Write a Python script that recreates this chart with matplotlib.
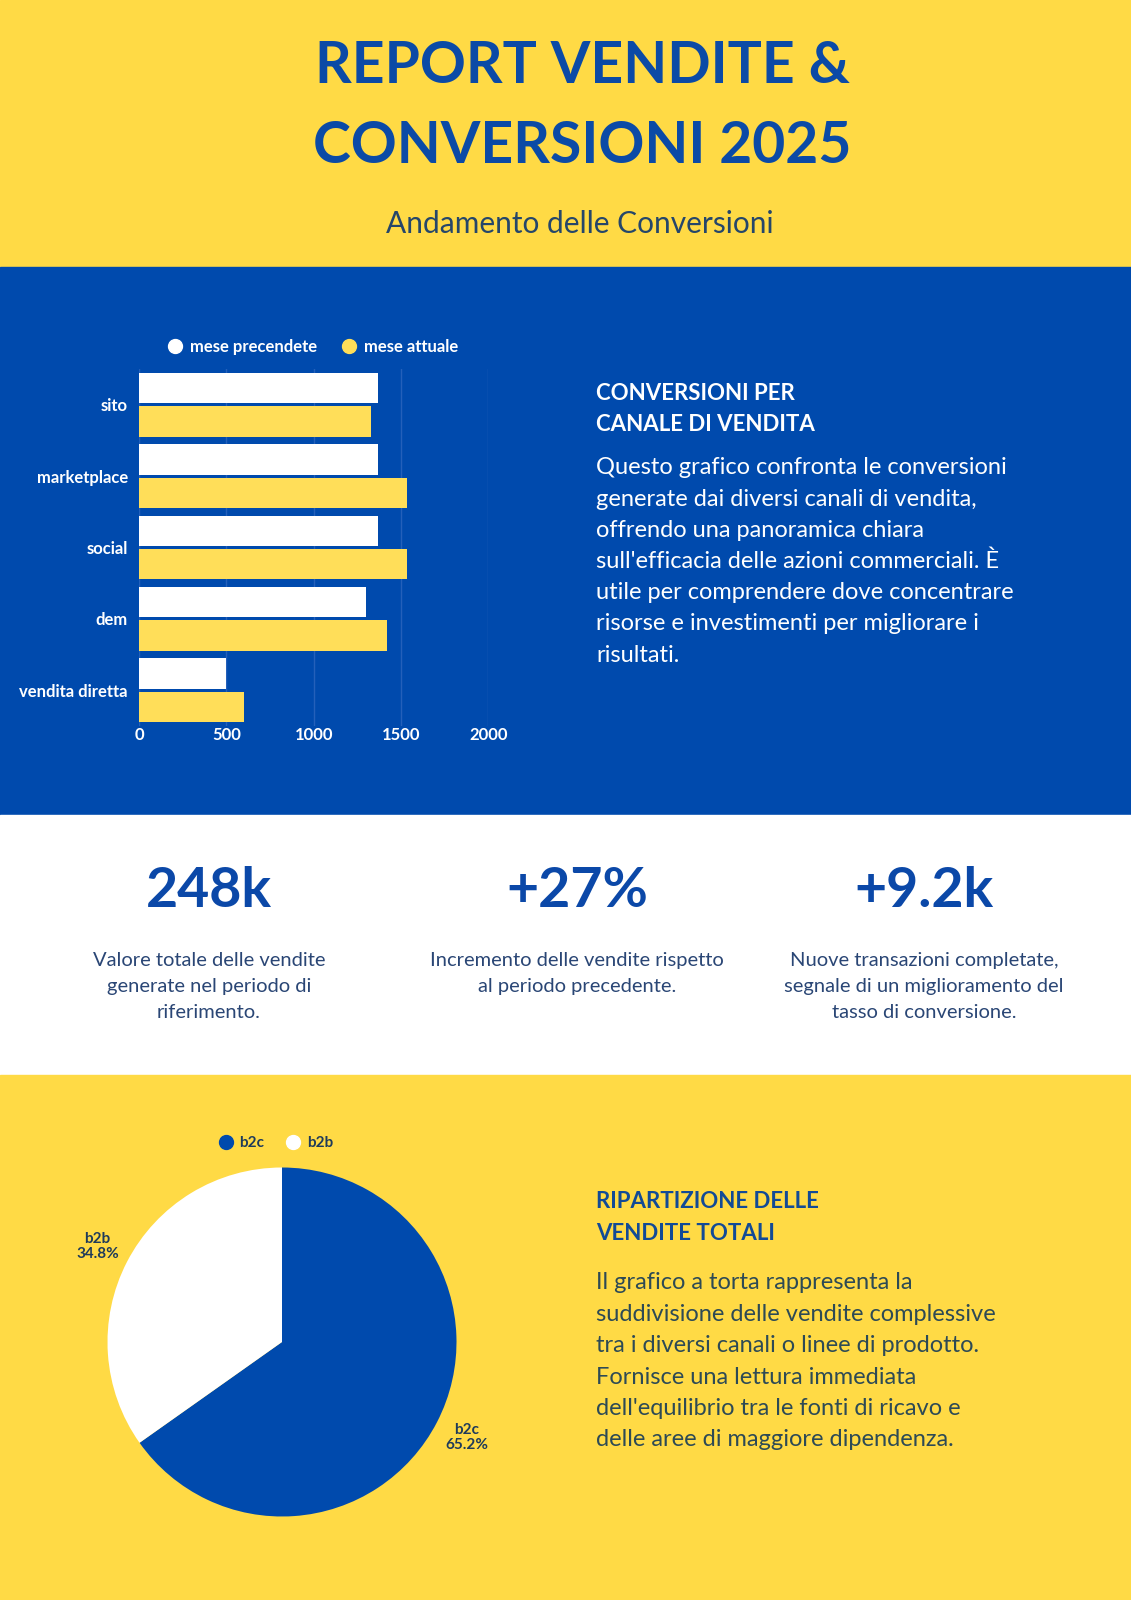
import matplotlib.pyplot as plt
from matplotlib.lines import Line2D
from matplotlib.patches import Rectangle
import numpy as np

# dati
canali = ['sito', 'marketplace', 'social', 'dem', 'vendita diretta']
mese_precedente = [1370, 1370, 1370, 1300, 500]
mese_attuale = [1330, 1535, 1535, 1420, 600]
x_ticks = [0, 500, 1000, 1500, 2000]

stat_valori = ['248k', '+27%', '+9.2k']
stat_testi = [
    ['Valore totale delle vendite', 'generate nel periodo di', 'riferimento.'],
    ['Incremento delle vendite rispetto', 'al periodo precedente.'],
    ['Nuove transazioni completate,', 'segnale di un miglioramento del', 'tasso di conversione.'],
]

segmenti = ['b2c', 'b2b']
quote = [65.2, 34.8]

BLU = '#004AAD'
GIALLO = '#FFDA45'
GIALLO_BAR = '#FFDE59'
W, H = 1131, 1600

plt.rcParams['font.family'] = ['Lato', 'DejaVu Sans']

fig = plt.figure(figsize=(W / 100, H / 100), dpi=100)
fig.patch.set_facecolor('white')


def fy(y):
    return 1 - y / H


def testo(x, y, s, **kw):
    fig.text(x / W, fy(y), s, va='baseline', **kw)


def legenda(colori, nomi, x, y, colore_testo, size):
    handles = [Line2D([], [], marker='o', linestyle='', markersize=10, color=c) for c in colori]
    fig.legend(handles, nomi, loc='center left', bbox_to_anchor=(x / W, fy(y)), ncol=len(nomi),
               frameon=False, handlelength=1.0, handletextpad=0.4, columnspacing=1.4,
               borderaxespad=0, borderpad=0, labelcolor=colore_testo,
               prop={'weight': 'bold', 'size': size})


# fasce di sfondo
for y0, y1, c in [(0, 267, GIALLO), (267, 815, BLU), (815, 1075, 'white'), (1075, 1600, GIALLO)]:
    fig.patches.append(Rectangle((0, fy(y1)), 1, (y1 - y0) / H, transform=fig.transFigure,
                                 color=c, zorder=-10))

# intestazione
testo(582, 83, 'REPORT VENDITE &', ha='center', fontsize=41, fontweight='bold', color='#0B4AA6')
testo(582, 163, 'CONVERSIONI 2025', ha='center', fontsize=41, fontweight='bold', color='#0B4AA6')
testo(580, 233, 'Andamento delle Conversioni', ha='center', fontsize=21.5, color='#25466A')

# grafico a barre
ax = fig.add_axes([139 / W, fy(726), (488.3 - 139) / W, (726 - 369) / H])
ax.set_facecolor(BLU)
y = np.arange(len(canali))
h = 0.427
ax.barh(y - 0.2345, mese_precedente, height=h, color='white', zorder=3)
ax.barh(y + 0.2345, mese_attuale, height=h, color=GIALLO_BAR, zorder=3)
ax.set_xlim(0, 2000)
ax.set_ylim(len(canali) - 0.5, -0.5)
ax.set_xticks(x_ticks)
ax.set_yticks(y)
ax.set_yticklabels(canali)
ax.tick_params(length=0, colors='white', labelsize=12)
ax.tick_params(axis='y', pad=8)
ax.tick_params(axis='x', pad=1)
for lab in ax.get_xticklabels() + ax.get_yticklabels():
    lab.set_fontweight('bold')
ax.grid(axis='x', color='#2460BA', linewidth=1, zorder=0)
for s in ax.spines.values():
    s.set_visible(False)

legenda(['white', GIALLO_BAR], ['mese precendete', 'mese attuale'], 167, 347, 'white', 12)

# testo a destra
testo(596, 400, 'CONVERSIONI PER', fontsize=16, fontweight='bold', color='white')
testo(596, 431, 'CANALE DI VENDITA', fontsize=16, fontweight='bold', color='white')
righe = ['Questo grafico confronta le conversioni',
         'generate dai diversi canali di vendita,',
         'offrendo una panoramica chiara',
         "sull'efficacia delle azioni commerciali. È",
         'utile per comprendere dove concentrare',
         'risorse e investimenti per migliorare i',
         'risultati.']
for i, r in enumerate(righe):
    testo(596, 474.3 + 31.2 * i, r, fontsize=17, color='white')

# statistiche
for cx, val, linee in zip([209, 577, 924], stat_valori, stat_testi):
    testo(cx, 907, val, ha='center', fontsize=40, fontweight='bold', color='#0B48A8')
    for j, l in enumerate(linee):
        testo(cx, 966 + 26 * j, l, ha='center', fontsize=14.5, color='#2A4675')

# grafico a torta
r = 174.5
axp = fig.add_axes([(282 - r) / W, fy(1342 + r), 2 * r / W, 2 * r / H])
wedges, labels = axp.pie(quote, colors=[BLU, 'white'], startangle=90, counterclock=False,
                         labels=[f'{s}\n{q}%' for s, q in zip(segmenti, quote)],
                         labeldistance=1.19,
                         textprops={'fontsize': 11, 'fontweight': 'bold', 'color': '#1F3B5A'})
for t in labels:
    t.set_ha('center')
    t.set_va('center')
    t.set_linespacing(1.1)
axp.set_xlim(-1, 1)
axp.set_ylim(-1, 1)

legenda([BLU, 'white'], segmenti, 218, 1143, '#1F3B5A', 11)

testo(596, 1207.7, 'RIPARTIZIONE DELLE', fontsize=16, fontweight='bold', color='#124A96')
testo(596, 1240, 'VENDITE TOTALI', fontsize=16, fontweight='bold', color='#124A96')
righe = ['Il grafico a torta rappresenta la',
         'suddivisione delle vendite complessive',
         'tra i diversi canali o linee di prodotto.',
         'Fornisce una lettura immediata',
         "dell'equilibrio tra le fonti di ricavo e",
         'delle aree di maggiore dipendenza.']
for i, rr in enumerate(righe):
    testo(596, 1289.3 + 31.4 * i, rr, fontsize=17, color='#2D4A55')

fig.savefig('out.png', dpi=100, facecolor=fig.get_facecolor())
plt.close(fig)
